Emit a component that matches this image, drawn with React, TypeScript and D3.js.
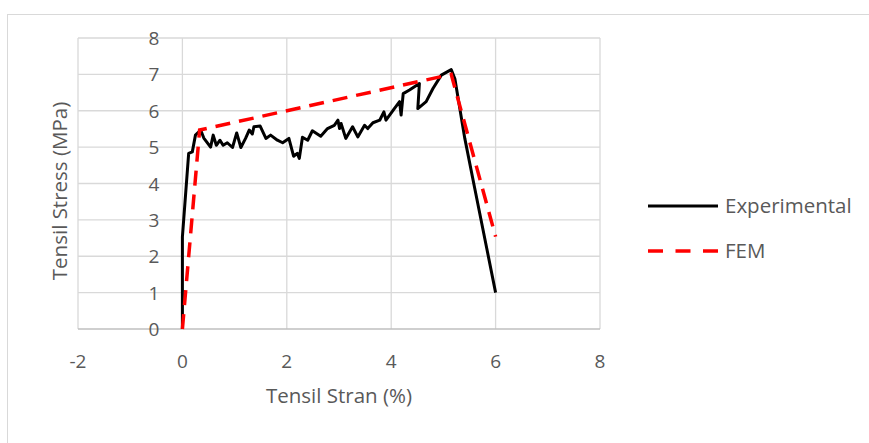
import React, { useEffect, useRef } from 'react';
import * as d3 from 'd3';

// Experimental curve: strain (%) and stress (MPa)
const expStrain = [0, 0, 0.12, 0.19, 0.25, 0.35, 0.41, 0.54, 0.59, 0.65, 0.72, 0.78, 0.86, 0.96, 1.04, 1.12, 1.21, 1.28, 1.34, 1.37, 1.49, 1.6, 1.69, 1.82, 1.92, 2.04, 2.13, 2.2, 2.24, 2.3, 2.4, 2.49, 2.65, 2.78, 2.91, 2.98, 3.01, 3.04, 3.13, 3.26, 3.36, 3.49, 3.55, 3.65, 3.78, 3.86, 3.9, 4.06, 4.16, 4.19, 4.23, 4.35, 4.54, 4.51, 4.67, 4.8, 4.96, 5.15, 5.22, 5.41, 5.6, 5.83, 6.0];
const expStress = [0, 2.53, 4.83, 4.87, 5.33, 5.47, 5.25, 5.0, 5.33, 5.05, 5.19, 5.05, 5.12, 4.99, 5.39, 4.99, 5.24, 5.47, 5.36, 5.56, 5.58, 5.24, 5.33, 5.19, 5.12, 5.24, 4.75, 4.83, 4.69, 5.27, 5.19, 5.45, 5.3, 5.51, 5.6, 5.74, 5.51, 5.65, 5.24, 5.56, 5.28, 5.6, 5.51, 5.67, 5.74, 5.97, 5.74, 6.06, 6.25, 5.88, 6.47, 6.57, 6.75, 6.06, 6.25, 6.61, 6.98, 7.13, 6.88, 5.24, 3.87, 2.22, 1.0];

// FEM curve
const femStrain = [0, 0.33, 5.15, 6.0];
const femStress = [0, 5.47, 7.0, 2.54];

const xTicks = [-2, 0, 2, 4, 6, 8];
const yTicks = [0, 1, 2, 3, 4, 5, 6, 7, 8];

const seriesNames = ['Experimental', 'FEM'];

const font = "'Open Sans', sans-serif";
const textColor = '#595959';

const App: React.FC = () => {
  const ref = useRef<SVGSVGElement | null>(null);

  useEffect(() => {
    if (!ref.current) return;
    const svg = d3.select(ref.current);
    svg.selectAll('*').remove();

    const x = d3.scaleLinear().domain([-2, 8]).range([78, 600]);
    const y = d3.scaleLinear().domain([0, 8]).range([329, 38]);

    // chart frame
    svg.append('rect')
      .attr('x', 7.5).attr('y', 14.5)
      .attr('width', 880).attr('height', 440)
      .attr('fill', '#fff').attr('stroke', '#d9d9d9');

    // gridlines
    const grid = svg.append('g');
    grid.selectAll('.gy').data(yTicks.filter((d) => d > 0)).enter().append('line')
      .attr('x1', x(-2)).attr('x2', x(8))
      .attr('y1', (d) => y(d)).attr('y2', (d) => y(d))
      .attr('stroke', '#d9d9d9').attr('stroke-width', 1.3);
    grid.selectAll('.gx').data(xTicks).enter().append('line')
      .attr('x1', (d) => x(d)).attr('x2', (d) => x(d))
      .attr('y1', y(0)).attr('y2', y(8))
      .attr('stroke', '#d9d9d9').attr('stroke-width', 1.3);

    // x axis line at y = 0
    svg.append('line')
      .attr('x1', x(-2)).attr('x2', x(8))
      .attr('y1', y(0)).attr('y2', y(0))
      .attr('stroke', '#bfbfbf').attr('stroke-width', 1.5);

    // tick labels
    svg.append('g').selectAll('text').data(xTicks).enter().append('text')
      .attr('x', (d) => x(d)).attr('y', y(0) + 39)
      .attr('text-anchor', 'middle')
      .attr('font-family', font).attr('font-size', 19)
      .attr('fill', textColor)
      .text((d) => String(d));

    svg.append('g').selectAll('text').data(yTicks).enter().append('text')
      .attr('x', x(0) - 23).attr('y', (d) => y(d) + 7)
      .attr('text-anchor', 'end')
      .attr('font-family', font).attr('font-size', 19)
      .attr('fill', textColor)
      .text((d) => String(d));

    // axis titles
    svg.append('text')
      .attr('x', 339).attr('y', 403)
      .attr('text-anchor', 'middle')
      .attr('font-family', font).attr('font-size', 20.5)
      .attr('fill', textColor)
      .text('Tensil Stran (%)');

    svg.append('text')
      .attr('transform', `translate(67,191) rotate(-90)`)
      .attr('text-anchor', 'middle')
      .attr('font-family', font).attr('font-size', 20.5)
      .attr('fill', textColor)
      .text('Tensil Stress (MPa)');

    const line = d3.line<[number, number]>()
      .x((d) => x(d[0]))
      .y((d) => y(d[1]));

    const expData = expStrain.map((s, i) => [s, expStress[i]] as [number, number]);
    const femData = femStrain.map((s, i) => [s, femStress[i]] as [number, number]);

    svg.append('path')
      .datum(expData)
      .attr('d', line)
      .attr('fill', 'none')
      .attr('stroke', '#000')
      .attr('stroke-width', 3)
      .attr('stroke-linejoin', 'round');

    svg.append('path')
      .datum(femData)
      .attr('d', line)
      .attr('fill', 'none')
      .attr('stroke', '#ff0000')
      .attr('stroke-width', 3.5)
      .attr('stroke-dasharray', '15,9');

    // legend
    const legend = svg.append('g');
    seriesNames.forEach((name, i) => {
      const ly = 206 + i * 45;
      legend.append('line')
        .attr('x1', 648).attr('x2', 718)
        .attr('y1', ly).attr('y2', ly)
        .attr('stroke', i === 0 ? '#000' : '#ff0000')
        .attr('stroke-width', i === 0 ? 3 : 3.5)
        .attr('stroke-dasharray', i === 0 ? null : '15,12.5');
      legend.append('text')
        .attr('x', 725).attr('y', ly + 7)
        .attr('font-family', font).attr('font-size', 20.5)
        .attr('fill', textColor)
        .text(name);
    });
  }, []);

  return <svg ref={ref} width={869} height={443} style={{ position: 'absolute', left: 0, top: 0 }}></svg>;
};

export default App;
